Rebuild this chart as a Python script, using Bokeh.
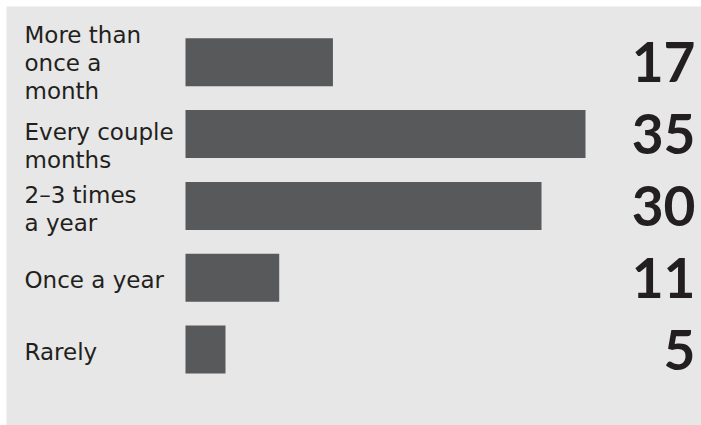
from bokeh.plotting import figure
from bokeh.models import Range1d, ColumnDataSource
from bokeh.core.properties import value
from bokeh.embed import file_html
from bokeh.resources import INLINE

# ---- data ----
categories = ["More than\nonce a\nmonth", "Every couple\nmonths", "2\u20133 times\na year", "Once a year", "Rarely"]
label_values = [17, 35, 30, 11, 5]
bar_lengths = [12.9, 35, 31.15, 8.2, 3.5]

# ---- layout constants ----
W, H = 701, 425
ML, MT = 6, 6
FW, FH = W - ML, H - MT
BG = "#e6e7e6"
BAR = "#58595b"
TXT = "#231f20"
px_per_unit = 400 / 35.0
x0_px = 179.0
x_start = -x0_px / px_per_unit
x_end = (FW - x0_px) / px_per_unit
pitch = 71.8
top_px = 55.8
y_top = -top_px / pitch
y_bottom = y_top + FH / pitch
label_nudge_px = [1, 12, 3, 2, 2]

idx = list(range(len(categories)))
src = ColumnDataSource(dict(
    y=idx,
    ylab=[i + n / pitch for i, n in zip(idx, label_nudge_px)],
    length=bar_lengths,
    cat=categories,
    lab=[str(v) for v in label_values],
    zero=[0] * len(idx),
))

p = figure(width=W, height=H, output_backend="svg", toolbar_location=None,
           x_range=Range1d(x_start, x_end), y_range=Range1d(y_bottom, y_top),
           min_border=0, min_border_left=ML, min_border_top=MT,
           background_fill_color=BG, border_fill_color="white",
           outline_line_color=None)
p.axis.visible = False
p.grid.visible = False

p.hbar(y="y", left="zero", right="length", height=48 / pitch, source=src,
       fill_color=BAR, line_color=None)

label_x = x_start + 18 / px_per_unit
p.text(x=label_x, y="ylab", text="cat", source=src, text_font=value("DejaVu Sans"),
       text_font_size="23px", text_color=TXT, text_align="left",
       text_baseline="middle", text_line_height=1.07)

num_x = x_start + 689 / px_per_unit
p.text(x=num_x, y="y", text="lab", source=src, text_font=value("Lato"),
       text_font_style="bold", text_font_size="55px", text_color=TXT,
       text_align="right", text_baseline="middle")

open("out.html", "w").write(file_html(p, INLINE))
